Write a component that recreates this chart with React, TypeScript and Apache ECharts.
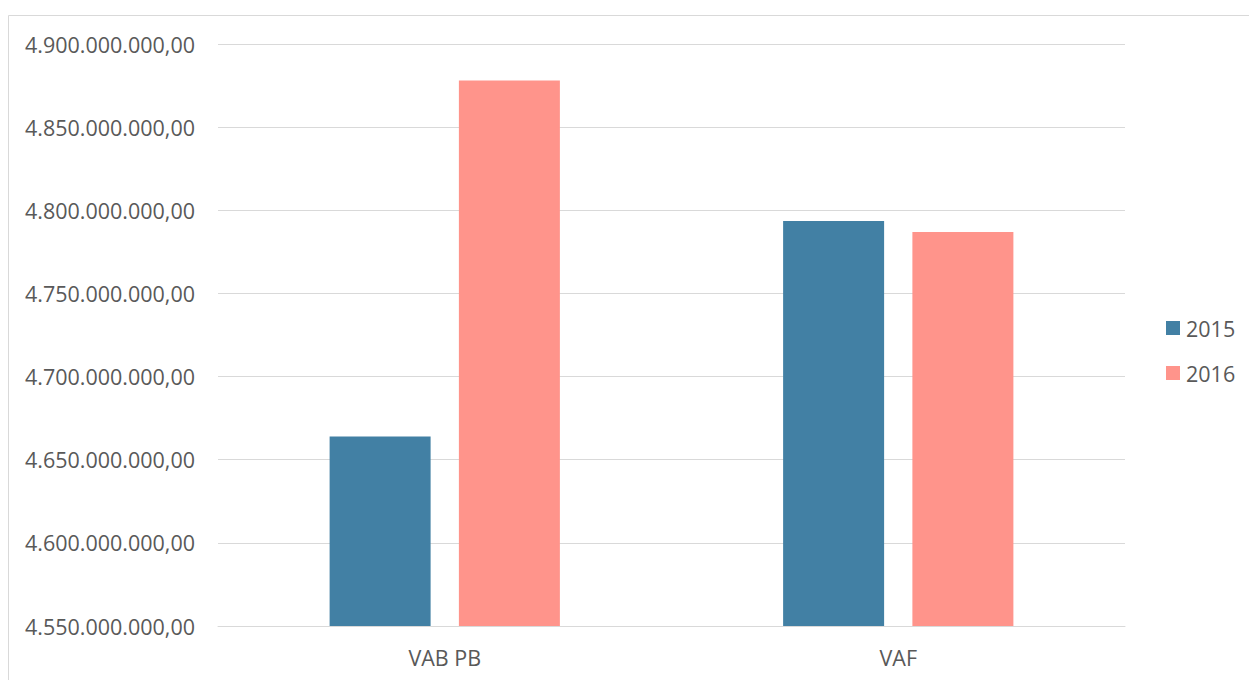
import React, { useEffect, useRef } from "react";
import * as echarts from "echarts";

const categories = ["VAB PB", "VAF"];
const seriesNames = ["2015", "2016"];
const values2015 = [4664000000, 4793500000];
const values2016 = [4878000000, 4787000000];
const colors = ["#4280A4", "#FF948B"];

const fmt = (v: number) => {
  const s = Math.round(v).toString().replace(/\B(?=(\d{3})+(?!\d))/g, ".");
  return s + ",00";
};

export default function App() {
  const ref = useRef<HTMLDivElement>(null);
  useEffect(() => {
    const chart = echarts.init(ref.current!, null, { renderer: "svg" });
    const font = "'Open Sans', sans-serif";
    chart.setOption({
      animation: false,
      backgroundColor: "#ffffff",
      textStyle: { fontFamily: font },
      graphic: [
        {
          type: "rect",
          shape: { x: 8.5, y: 15.5, width: 1300, height: 700 },
          style: { fill: "none", stroke: "#d9d9d9", lineWidth: 1 },
          silent: true,
        },
      ],
      grid: { left: 218, right: 124, top: 44, bottom: 54, containLabel: false },
      legend: {
        orient: "vertical",
        left: 1166,
        top: 317,
        padding: 0,
        itemWidth: 14,
        itemHeight: 14,
        itemGap: 23,
        icon: "rect",
        data: seriesNames,
        textStyle: { color: "#595959", fontSize: 21.5, fontFamily: font, padding: [0, 0, 0, 1] },
      },
      xAxis: {
        type: "category",
        data: categories,
        axisLine: { show: true, lineStyle: { color: "#d9d9d9", width: 1 } },
        axisTick: { show: false },
        axisLabel: { color: "#595959", fontSize: 21.5, fontFamily: font, margin: 20 },
      },
      yAxis: {
        type: "value",
        min: 4550000000,
        max: 4900000000,
        interval: 50000000,
        axisLine: { show: false },
        axisTick: { show: false },
        splitLine: { lineStyle: { color: "#d9d9d9", width: 1 } },
        axisLabel: { color: "#595959", fontSize: 21.5, fontFamily: font, margin: 23, formatter: fmt },
      },
      series: [
        {
          name: seriesNames[0],
          type: "bar",
          data: values2015,
          barWidth: 101,
          barGap: "28%",
          itemStyle: { color: colors[0] },
        },
        {
          name: seriesNames[1],
          type: "bar",
          data: values2016,
          barWidth: 101,
          barGap: "28%",
          itemStyle: { color: colors[1] },
        },
      ],
    });
    return () => chart.dispose();
  }, []);
  return (
    <div
      ref={ref}
      style={{ position: "absolute", left: 0, top: 0, width: 1249, height: 680 }}
    />
  );
}
